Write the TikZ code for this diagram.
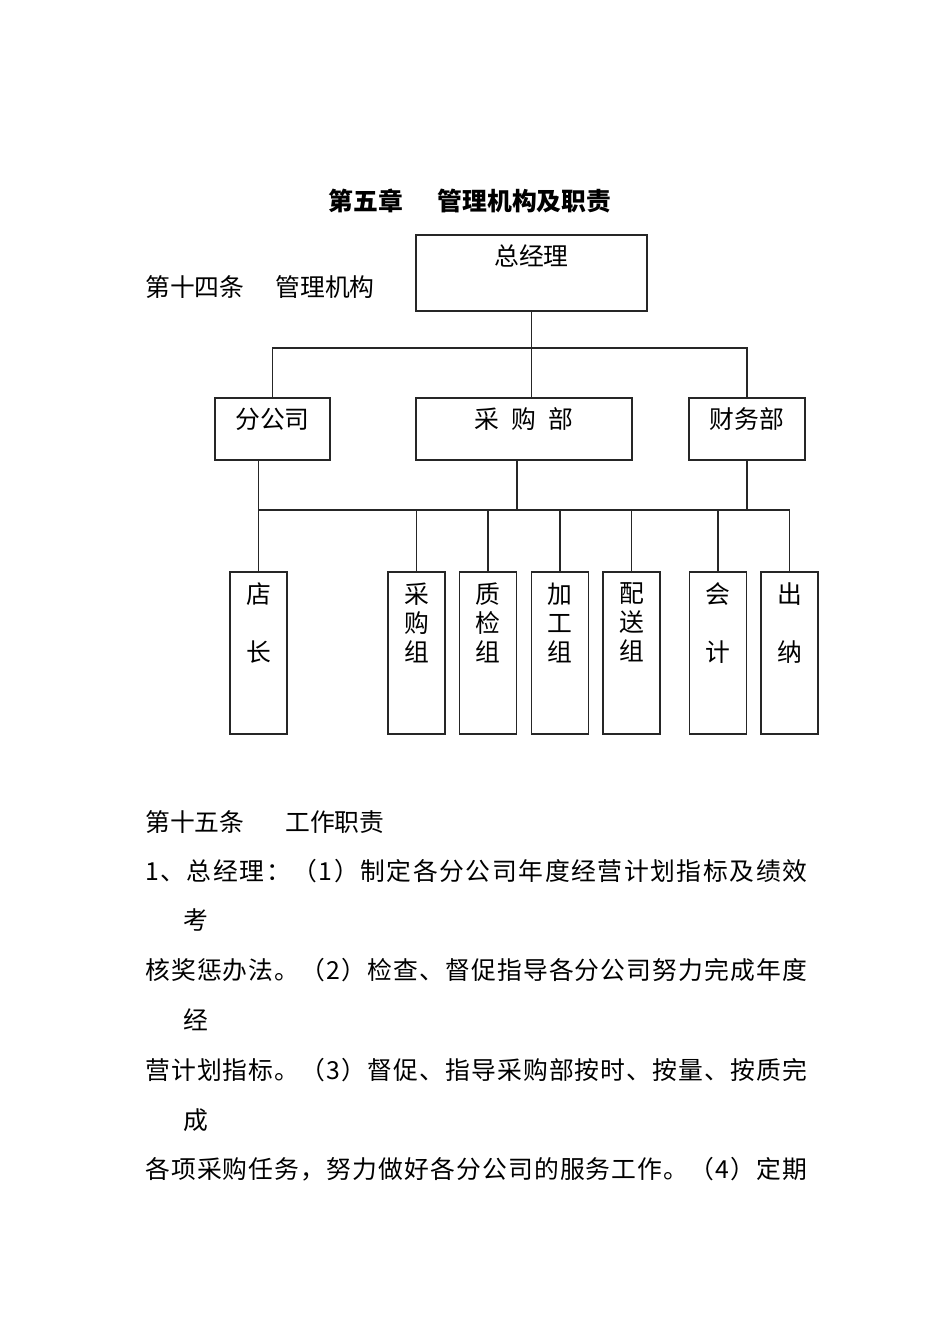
\documentclass[tikz,border=0pt]{standalone}
\usepackage{fontspec}
\setmainfont{Noto Sans CJK SC}
\usetikzlibrary{positioning}
\tikzset{
  box/.style={draw=black!85, line width=1.1pt, inner sep=0pt},
  link/.style={draw=black!85, line width=1.1pt},
  txt/.style={inner sep=0pt, font=\fontsize{24.8}{29}\selectfont},
  line/.style={txt, anchor=west}
}
\makeatletter
\def\spr@ad#1#2{#1\ifx#2\relax\else\hskip0pt plus1fil\expandafter\spr@ad\fi#2}
\newcommand\fullline[1]{\makebox[662pt][s]{\spr@ad#1\relax}}
\makeatother

\begin{document}
\begin{tikzpicture}[x=1pt, y=-1pt]
  \useasboundingbox (0,0) rectangle (950,1344);

  \node[txt, font=\fontsize{24.8}{29}\selectfont\bfseries] (title) at (470,201) {第五章\hspace{1.4em}管理机构及职责};
  \node[line] (art14) at (145,287) {第十四条\hspace{1.25em}管理机构};

  % boxes
  \node[box, minimum width=231pt, minimum height=76pt] (gm) at (531.5,273) {};
  \node[txt] (gm-t) at ([yshift=-21pt]gm.north) {总经理};
  \foreach \n/\x/\w/\t in {sub/272.5/115/分公司, pur/524/216/采\hspace{.5em}购\hspace{.5em}部, fin/747/116/财务部}
  {
      \node[box, minimum width=\w pt, minimum height=62pt] (\n) at (\x,429) {};
      \node[txt] (\n-t) at ([yshift=-22pt]\n.north) {\t};
  }
  \coordinate (bus1) at (0,348);
  \coordinate (bus2) at (0,510);
  \foreach \n/\x/\t in {dz/258.5/店\\[29pt]长, cgz/416.5/采\\购\\组, zjz/488/质\\检\\组, jgz/560/加\\工\\组, psz/631.5/配\\送\\组, kj/718/会\\[29pt]计, cn/789.5/出\\[29pt]纳}
  {
      \node[box, minimum width=57pt, minimum height=162pt] (\n) at (\x,653) {};
      \node[txt, align=center, anchor=north] (\n-t) at ([yshift=-11pt]\n.north) {\t};
      \draw[link] (\n.north |- bus2) -- (\n.north);
  }

  % connectors
  \draw[link] (gm.south) -- (gm.south |- pur.north);
  \draw[link] (sub.north) -- (sub.north |- bus1) -- (fin.north |- bus1) -- (fin.north);
  \draw[link] (sub.south -| dz.north) -- (dz.north);
  \draw[link] ([xshift=-7pt]pur.south) -- ([xshift=-7pt]pur.south |- bus2);
  \draw[link] (fin.south) -- (fin.south |- bus2);
  \draw[link] (dz.north |- bus2) -- (cn.north |- bus2);

  % text
  \node[line] (l1) at (145,822) {第十五条\hspace{1.65em}工作职责};
  \node[line] (l2) at (145,871) {\fullline{1、总经理：（1）制定各分公司年度经营计划指标及绩效}};
  \node[line] (l3) at (183,920) {考};
  \node[line] (l4) at (145,970) {\fullline{核奖惩办法。（2）检查、督促指导各分公司努力完成年度}};
  \node[line] (l5) at (183,1020) {经};
  \node[line] (l6) at (145,1070) {\fullline{营计划指标。（3）督促、指导采购部按时、按量、按质完}};
  \node[line] (l7) at (183,1120) {成};
  \node[line] (l8) at (145,1169) {\fullline{各项采购任务，努力做好各分公司的服务工作。（4）定期}};
\end{tikzpicture}
\end{document}
